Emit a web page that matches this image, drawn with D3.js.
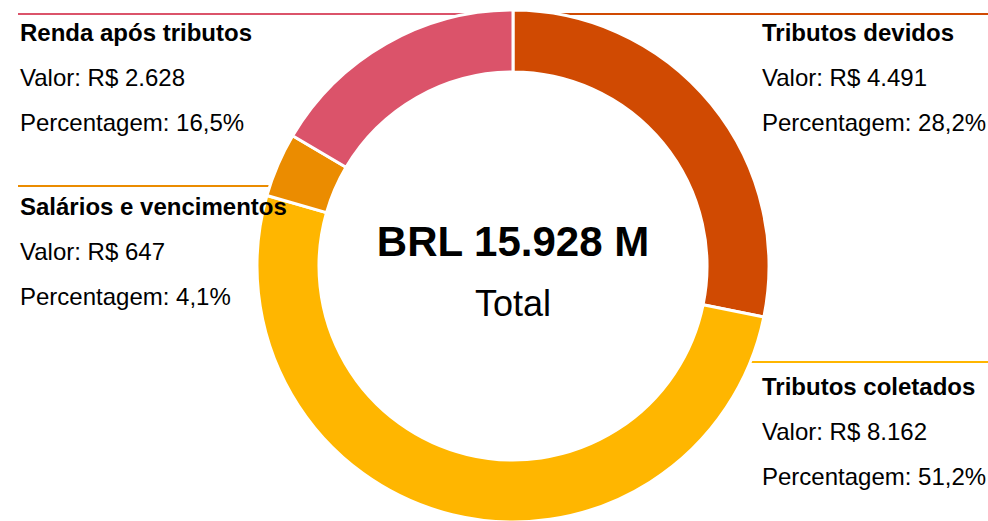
<!DOCTYPE html>
<html>
<head>
<meta charset="utf-8">
<script src="https://cdn.jsdelivr.net/npm/d3@7"></script>
<style>
  body { margin: 0; background: #fff; }
  text { font-family: "Liberation Sans", Arial, sans-serif; fill: #000; }
</style>
</head>
<body>
<script>
const svgW = 988;
const svgH = 521;

// dados
const categories = ['Tributos devidos', 'Tributos coletados', 'Salários e vencimentos', 'Renda após tributos'];
const values = [4491, 8162, 647, 2628];
const valueLabels = ['R$ 4.491', 'R$ 8.162', 'R$ 647', 'R$ 2.628'];
const percentLabels = ['28,2%', '51,2%', '4,1%', '16,5%'];
const colors = ['#D04A02', '#FFB600', '#EB8C00', '#DB536A'];
const totalLabel = 'BRL 15.928 M';
const totalCaption = 'Total';

// posição das legendas (layout)
const labelPos = [
  { side: 'right', lineY: 14, y: 41 },
  { side: 'right', lineY: 362, y: 395 },
  { side: 'left', lineY: 186, y: 215 },
  { side: 'left', lineY: 14, y: 41 }
];

const cx = 513;
const cy = 266;
const outerR = 256;
const innerR = 194;
const midR = (outerR + innerR) / 2;

const svg = d3.select('body')
              .append('svg')
              .attr('width', svgW)
              .attr('height', svgH);

const data = categories.map((c, i) => ({ name: c, value: values[i], i: i }));

const pie = d3.pie().sort(null).value(d => d.value);
const arc = d3.arc().innerRadius(innerR).outerRadius(outerR);
const arcs = pie(data);

// onde a linha encontra o anel
function ringX(d) {
  const dy = labelPos[d.i].lineY - cy;
  const r = Math.abs(dy) < midR ? midR : outerR;
  const dx = Math.sqrt(Math.max(0, r * r - dy * dy));
  return labelPos[d.i].side === 'left' ? cx - dx : cx + dx;
}

// linhas das legendas (atrás do anel)
svg.selectAll('.lead')
  .data(data)
  .enter()
  .append('line')
  .attr('class', 'lead')
  .attr('x1', d => labelPos[d.i].side === 'left' ? 18 : ringX(d))
  .attr('x2', d => labelPos[d.i].side === 'left' ? ringX(d) : svgW)
  .attr('y1', d => labelPos[d.i].lineY)
  .attr('y2', d => labelPos[d.i].lineY)
  .attr('stroke', d => colors[d.i])
  .attr('stroke-width', 2);

// anel
const g = svg.append('g')
  .attr('transform', `translate(${cx}, ${cy})`);

g.selectAll('path')
  .data(arcs)
  .enter()
  .append('path')
  .attr('d', arc)
  .attr('fill', d => colors[d.data.i])
  .attr('stroke', '#fff')
  .attr('stroke-width', 3);

// total no centro
g.append('text')
  .attr('text-anchor', 'middle')
  .attr('y', -10)
  .style('font-size', '42px')
  .style('font-weight', 'bold')
  .text(totalLabel);

g.append('text')
  .attr('text-anchor', 'middle')
  .attr('y', 50)
  .style('font-size', '36px')
  .text(totalCaption);

// legendas
const lg = svg.selectAll('.lbl')
  .data(data)
  .enter()
  .append('g')
  .attr('class', 'lbl')
  .attr('transform', d => `translate(${labelPos[d.i].side === 'left' ? 20 : 762}, ${labelPos[d.i].y})`);

lg.append('text')
  .style('font-size', '24px')
  .style('font-weight', 'bold')
  .text(d => d.name);

lg.append('text')
  .attr('y', 45)
  .style('font-size', '24px')
  .text(d => 'Valor: ' + valueLabels[d.i]);

lg.append('text')
  .attr('y', 90)
  .style('font-size', '24px')
  .text(d => 'Percentagem: ' + percentLabels[d.i]);
</script>
</body>
</html>
